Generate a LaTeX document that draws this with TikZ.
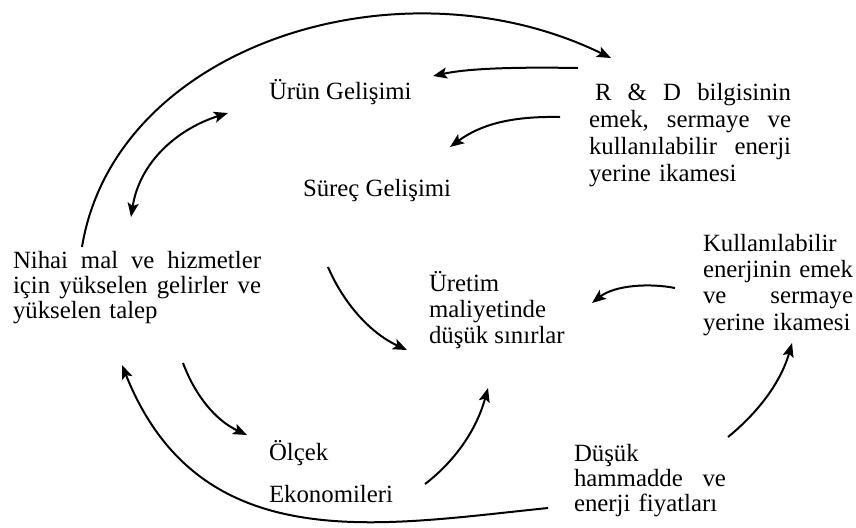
\documentclass[tikz,border=0pt]{standalone}
\usepackage{fontspec}
\setmainfont{Liberation Serif}
\usetikzlibrary{arrows.meta}
\setlength{\parindent}{0pt}
\newcommand{\topstrut}{\rule{0pt}{11pt}}
\newcommand{\spreadline}[2]{\leavevmode\hbox to #1{#2}}
\begin{document}
\begin{tikzpicture}[>={Stealth[length=7pt,width=5.5pt,inset=1.5pt]}, x=0.5pt, y=-0.5pt, line width=1pt,
  lbl/.style={anchor=north west, inner sep=0pt, align=left, font=\fontsize{12.4}{12.6}\selectfont},
  wide/.style={font=\fontsize{12.4}{13.2}\selectfont}]
\useasboundingbox (0,0) rectangle (856,527);

\node[lbl](urun) at (268,76){\topstrut Ürün Gelişimi};
\node[lbl](surec) at (302,173){\topstrut Süreç Gelişimi};
\node[lbl, text width=101pt, font=\fontsize{12.4}{13.5}\selectfont](rd) at (588,77){\topstrut\spreadline{101pt}{\hspace*{3pt}R \hfill \& \hfill D \hfill bilgisinin}\\
  \spreadline{101pt}{emek, \hfill sermaye \hfill ve}\\
  \spreadline{101pt}{kullanılabilir \hfill enerji}\\
  yerine ikamesi};
\node[lbl, text width=124pt](nihai) at (12,245){\topstrut\spreadline{124pt}{Nihai \hfill mal \hfill ve \hfill hizmetler}\\
  \spreadline{124pt}{için \hfill yükselen \hfill gelirler \hfill ve}\\
  yükselen talep};
\node[lbl, wide](uretim) at (428,268){\topstrut Üretim\\ maliyetinde\\ düşük sınırlar};
\node[lbl, wide, text width=75pt](kullan) at (702,228){\topstrut Kullanılabilir\\
  \spreadline{75pt}{enerjinin \hfill emek}\\
  \spreadline{75pt}{ve \hfill sermaye}\\
  yerine ikamesi};
\node[lbl](olcek) at (268,437){\topstrut Ölçek\\[8.4pt] Ekonomileri};
\node[lbl, text width=76pt](dusuk) at (573,438){\topstrut Düşük\\
  \spreadline{76pt}{hammadde \hfill ve}\\
  enerji fiyatları};

\coordinate(n1) at (82,247);
\coordinate(n2) at (131,217);
\coordinate(n3) at (183,363);
\coordinate(n4) at (122,365);
\coordinate(r1) at (611,58);
\coordinate(r2) at (578,68);
\coordinate(r3) at (560,117);
\coordinate(u1) at (433,76);
\coordinate(u2) at (228,113);
\coordinate(s1) at (450,147);
\coordinate(s2) at (328,267);
\coordinate(m1) at (407,350);
\coordinate(m2) at (592,303);
\coordinate(m3) at (488,388);
\coordinate(k1) at (675,288);
\coordinate(k2) at (792,343);
\coordinate(o1) at (247,435);
\coordinate(o2) at (425,484);
\coordinate(d1) at (728,437);
\coordinate(d2) at (548,508);

\draw[->](n1) .. controls (115,45) and (400,-45) .. (r1);
\draw[->](r2) .. controls (520,67) and (470,68) .. (u1);
\draw[->](r3) .. controls (510,116) and (480,125) .. (s1);
\draw[<->](n2) .. controls (140,160) and (180,128) .. (u2);
\draw[->](s2) .. controls (342,300) and (368,332) .. (m1);
\draw[->](k1) .. controls (650,283) and (615,285) .. (m2);
\draw[->](n3) .. controls (195,395) and (215,420) .. (o1);
\draw[->](o2) .. controls (450,465) and (475,435) .. (m3);
\draw[->](d1) .. controls (755,415) and (780,385) .. (k2);
\draw[->](d2) .. controls (380,525) and (200,560) .. (n4);
\end{tikzpicture}
\end{document}
